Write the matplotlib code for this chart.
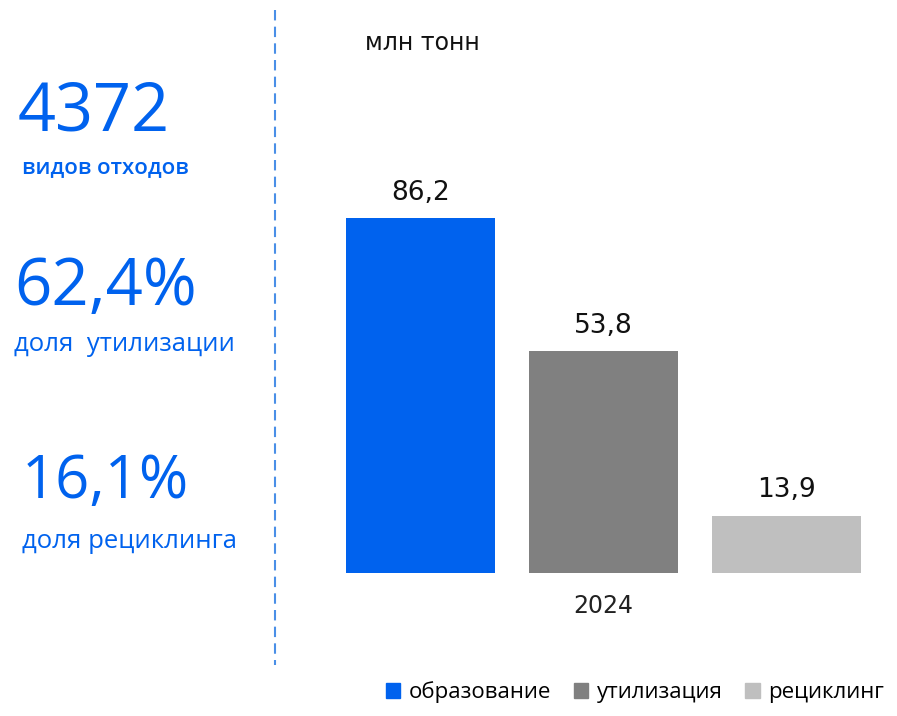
import matplotlib.pyplot as plt
from matplotlib.lines import Line2D
from matplotlib.patches import Patch

# data
categories = ['образование', 'утилизация', 'рециклинг']
values = [86.2, 53.8, 13.9]
value_labels = ['86,2', '53,8', '13,9']
year = '2024'
colors = ['#0062EE', '#808080', '#BFBFBF']

kpi_numbers = ['4372', '62,4%', '16,1%']
kpi_texts = ['видов отходов', 'доля  утилизации', 'доля рециклинга']

W, H = 897, 716
fig = plt.figure(figsize=(W / 100, H / 100), dpi=100)
blue = '#0062EE'

# bar axes in pixel terms: left 346, right 861, bottom 573, top 100
ax = fig.add_axes([346 / W, 1 - 573 / H, (861 - 346) / W, (573 - 100) / H])
bw = 0.816
x = list(range(len(values)))
ax.bar(x, values, width=bw, color=colors)
ax.set_xlim(-bw / 2, len(values) - 1 + bw / 2)
ax.set_ylim(0, 473 / (355 / 86.2))
for xi, v, lab in zip(x, values, value_labels):
    ax.text(xi, v + 3, lab, ha='center', va='bottom', fontsize=19,
            family='DejaVu Sans', color='#111111')
ax.axis('off')

fig.text(603 / W, 1 - 606 / H, year, ha='center', va='center', fontsize=17,
         family='DejaVu Sans', color='#222222')
fig.text(422 / W, 1 - 43 / H, 'млн тонн', ha='center', va='center', fontsize=17,
         family='DejaVu Sans', color='#111111')

# left kpi block
num_pos = [(18, 113), (14, 288), (22, 482)]
txt_pos = [(22, 168), (14, 344), (22, 541)]
num_sizes = [48, 47, 43]
for (nx, ny), num, fs in zip(num_pos, kpi_numbers, num_sizes):
    fig.text(nx / W, 1 - ny / H, num, ha='left', va='center', fontsize=fs,
             family='Open Sans', color=blue)
for i, ((tx, ty), t) in enumerate(zip(txt_pos, kpi_texts)):
    fig.text(tx / W, 1 - ty / H, t, ha='left', va='center',
             fontsize=16 if i == 0 else 18.5,
             family='Open Sans', color=blue,
             weight='semibold' if i == 0 else 'normal')

# dashed divider
fig.add_artist(Line2D([275 / W, 275 / W], [1 - 10 / H, 1 - 665 / H],
                      color='#4A8FE7', lw=1.5, ls=(0, (5, 3))))

# legend
handles = [Patch(color=c, label=l) for c, l in zip(colors, categories)]
fig.legend(handles=handles, loc='center', bbox_to_anchor=(635 / W, 1 - 692 / H),
           ncol=3, frameon=False, handlelength=0.65, handleheight=0.65,
           handletextpad=0.4, columnspacing=1.0, prop={'family': 'Open Sans', 'size': 16})

fig.savefig('out.png', dpi=100)
